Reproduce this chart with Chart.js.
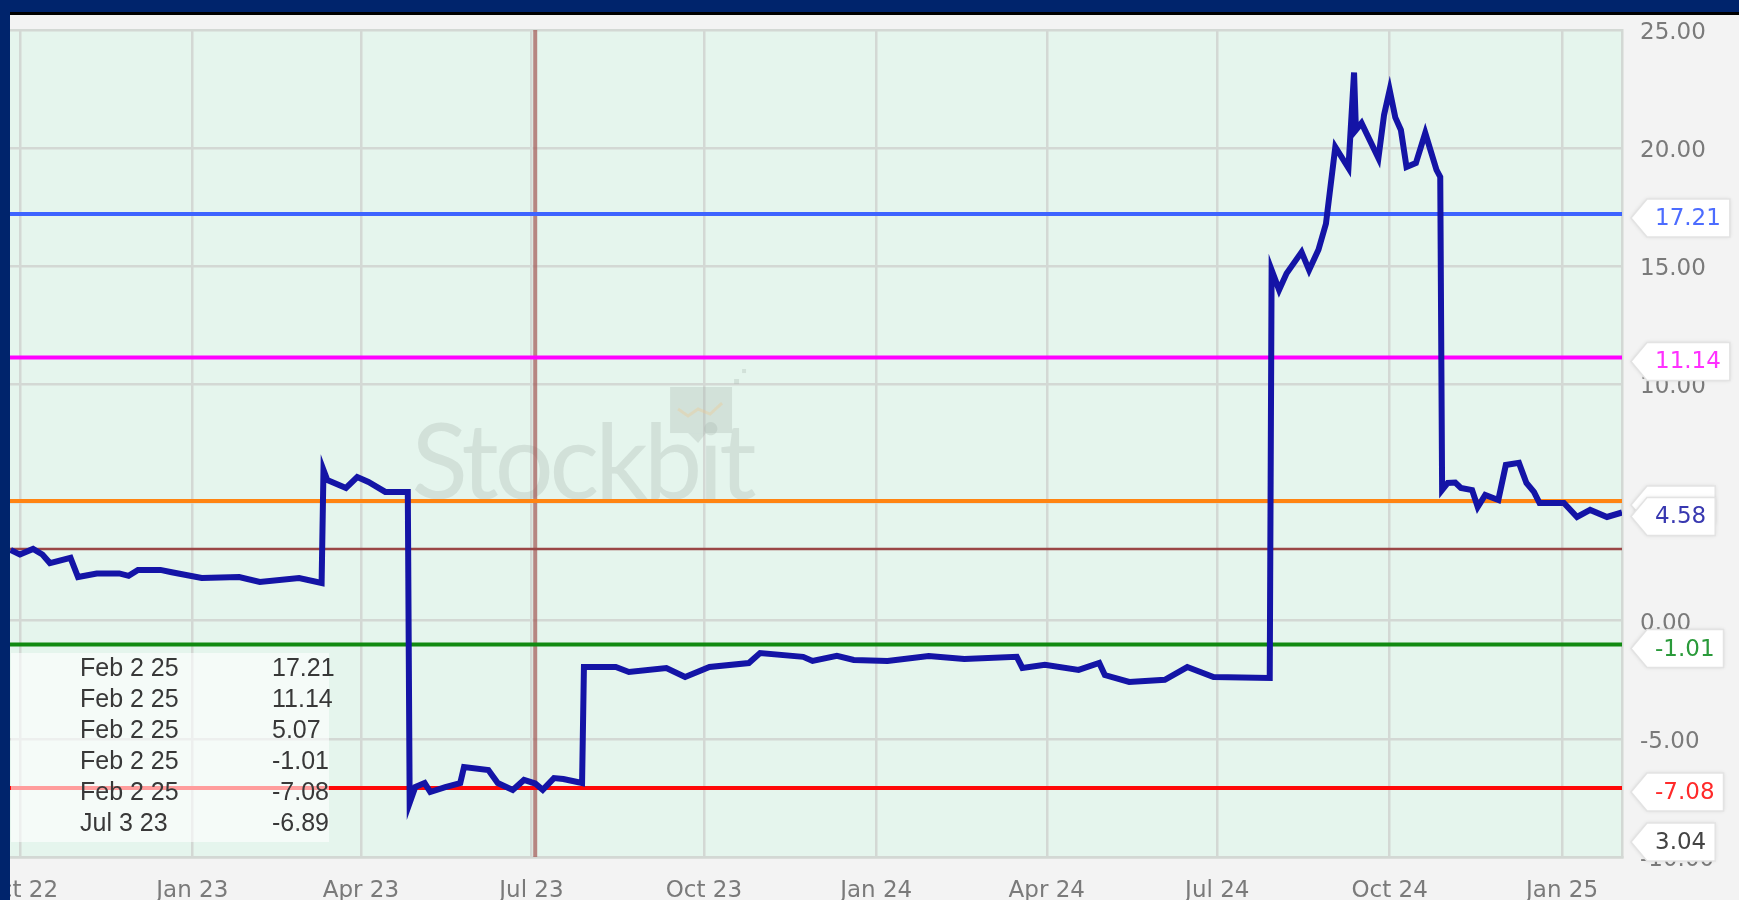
<!DOCTYPE html>
<html>
<head>
<meta charset="utf-8">
<script src="https://cdn.jsdelivr.net/npm/chart.js@4.4.1/dist/chart.umd.min.js"></script>
<style>
  html, body { margin: 0; padding: 0; background: #f3f3f3; overflow: hidden; }
  #wrap { width: 1739px; height: 900px; position: relative; }
</style>
</head>
<body>
<div id="wrap"><canvas id="chart"></canvas></div>
<script>
// price series
const dates = [
  '2022-09-26','2022-10-01','2022-10-08','2022-10-13','2022-10-17','2022-10-28','2022-11-01','2022-11-11',
  '2022-11-23','2022-11-28','2022-12-03','2022-12-15','2022-12-21','2023-01-06','2023-01-26','2023-02-06',
  '2023-02-27','2023-03-11','2023-03-12','2023-03-14','2023-03-24','2023-03-30','2023-04-05','2023-04-14',
  '2023-04-26','2023-04-27','2023-04-30','2023-05-05','2023-05-08','2023-05-16','2023-05-24','2023-05-26',
  '2023-06-08','2023-06-13','2023-06-21','2023-06-27','2023-07-03','2023-07-07','2023-07-13','2023-07-18',
  '2023-07-28','2023-07-29','2023-08-15','2023-08-22','2023-09-11','2023-09-21','2023-10-04','2023-10-25',
  '2023-10-31','2023-11-23','2023-11-28','2023-12-11','2023-12-20','2024-01-07','2024-01-29','2024-02-17',
  '2024-03-16','2024-03-19','2024-03-31','2024-04-18','2024-04-29','2024-05-02','2024-05-15','2024-06-03',
  '2024-06-15','2024-06-29','2024-07-29','2024-07-30','2024-08-03','2024-08-07','2024-08-15','2024-08-19',
  '2024-08-24','2024-08-28','2024-09-02','2024-09-09','2024-09-12','2024-09-13','2024-09-16','2024-09-25',
  '2024-09-28','2024-10-01','2024-10-04','2024-10-07','2024-10-10','2024-10-15','2024-10-20','2024-10-26',
  '2024-10-28','2024-10-29','2024-11-01','2024-11-05','2024-11-08','2024-11-14','2024-11-17','2024-11-21',
  '2024-11-28','2024-12-02','2024-12-09','2024-12-13','2024-12-17','2024-12-20','2025-01-02','2025-01-09',
  '2025-01-16','2025-01-25','2025-02-02'
];
const values = [
  3.00, 2.80, 3.04, 2.80, 2.44, 2.66, 1.85, 2.00,
  2.00, 1.90, 2.15, 2.15, 2.05, 1.81, 1.85, 1.64,
  1.81, 1.60, 6.38, 5.96, 5.62, 6.08, 5.87, 5.45,
  5.45, -7.71, -7.04, -6.87, -7.25, -7.04, -6.87, -6.19,
  -6.32, -6.87, -7.16, -6.74, -6.89, -7.16, -6.66, -6.70,
  -6.87, -1.96, -1.96, -2.17, -2.00, -2.38, -1.96, -1.79,
  -1.37, -1.53, -1.70, -1.49, -1.66, -1.70, -1.49, -1.62,
  -1.53, -2.00, -1.87, -2.08, -1.79, -2.30, -2.59, -2.50,
  -1.96, -2.38, -2.42, 14.84, 14.00, 14.70, 15.60, 14.84,
  15.70, 16.80, 20.05, 19.16, 23.20, 20.77, 21.06, 19.58,
  21.40, 22.46, 21.30, 20.77, 19.20, 19.37, 20.64, 19.08,
  18.78, 5.53, 5.83, 5.85, 5.62, 5.53, 4.81, 5.32,
  5.11, 6.59, 6.68, 5.83, 5.45, 4.98, 4.98, 4.39,
  4.69, 4.39, 4.58
];

// horizontal levels and their label colours
const levelValues = [17.21, 11.14, 5.07, -1.01, -7.08];
const levelColors = ['#3d63ff', '#ff00ff', '#ff8412', '#118a11', '#ff0808'];
const levelTextColors = ['#4c6cff', '#ff30ff', '#ff8412', '#2a9a3a', '#ff2a2a'];
const baseLevel = 3.04;
const lastValue = 4.58;
const markerDate = '2023-07-03';

// x axis ticks
const tickDates = ['2022-10-01','2023-01-01','2023-04-01','2023-07-01','2023-10-01','2024-01-01',
                   '2024-04-01','2024-07-01','2024-10-01','2025-01-01'];
const tickLabels = ['Oct 22','Jan 23','Apr 23','Jul 23','Oct 23','Jan 24','Apr 24','Jul 24','Oct 24','Jan 25'];
const yTicks = [-10, -5, 0, 5, 10, 15, 20, 25];

// table in the lower left corner
const tableDates = ['Feb 2 25','Feb 2 25','Feb 2 25','Feb 2 25','Feb 2 25','Jul 3 23'];
const tableValues = ['17.21','11.14','5.07','-1.01','-7.08','-6.89'];

const day = s => Date.UTC(+s.slice(0, 4), +s.slice(5, 7) - 1, +s.slice(8, 10)) / 864e5;
const xMin = day('2022-10-01') - 5.3;
const xMax = day('2025-02-02');
const AXIS_FONT = '23px "DejaVu Sans"';

function callout(ctx, area, y, text, color) {
  y += 4; // boxes sit a little below their line
  ctx.save();
  ctx.font = AXIS_FONT;
  const w = ctx.measureText(text).width;
  const tip = area.right + 9, bodyL = area.right + 25, textX = area.right + 33;
  const r = textX + w + 9, h = 38;
  ctx.beginPath();
  ctx.moveTo(tip, y);
  ctx.lineTo(bodyL, y - h / 2);
  ctx.lineTo(r, y - h / 2);
  ctx.lineTo(r, y + h / 2);
  ctx.lineTo(bodyL, y + h / 2);
  ctx.closePath();
  ctx.shadowColor = 'rgba(0,0,0,0.12)';
  ctx.shadowBlur = 4;
  ctx.fillStyle = '#ffffff';
  ctx.fill();
  ctx.shadowColor = 'transparent';
  ctx.strokeStyle = '#e3e3e3';
  ctx.lineWidth = 1.5;
  ctx.stroke();
  if (color) {
    ctx.fillStyle = color;
    ctx.textBaseline = 'middle';
    ctx.textAlign = 'left';
    ctx.fillText(text, textX, y + 1);
  }
  ctx.restore();
}

const decor = {
  id: 'decor',
  beforeDraw(chart) {
    const { ctx, chartArea: a } = chart;
    ctx.save();
    ctx.fillStyle = '#f3f3f3';
    ctx.fillRect(0, 0, chart.width, chart.height);
    ctx.fillStyle = '#e5f5ed';
    ctx.fillRect(a.left, a.top, a.right - a.left, a.bottom - a.top);
    ctx.restore();
  },
  beforeDatasetsDraw(chart) {
    // faint watermark
    const { ctx } = chart;
    const xs = chart.scales.x, ys = chart.scales.y;
    const cx = xs.getPixelForValue(day('2023-07-28'));
    const by = ys.getPixelForValue(5.15);
    ctx.save();
    ctx.fillStyle = 'rgba(165,178,172,0.3)';
    ctx.font = '104px Lato';
    ctx.letterSpacing = '-4px';
    ctx.textAlign = 'center';
    ctx.textBaseline = 'alphabetic';
    ctx.fillText('Stockbit', cx, by);
    ctx.fillRect(cx + 88, by - 112, 62, 46);
    ctx.beginPath();
    ctx.moveTo(cx + 106, by - 66); ctx.lineTo(cx + 116, by - 56); ctx.lineTo(cx + 124, by - 66);
    ctx.fill();
    ctx.fillRect(cx + 152, by - 120, 5, 5);
    ctx.fillRect(cx + 160, by - 130, 4, 4);
    ctx.strokeStyle = 'rgba(240,200,140,0.35)';
    ctx.lineWidth = 3;
    ctx.beginPath();
    ctx.moveTo(cx + 96, by - 90); ctx.lineTo(cx + 106, by - 83); ctx.lineTo(cx + 116, by - 90);
    ctx.lineTo(cx + 128, by - 85); ctx.lineTo(cx + 140, by - 96);
    ctx.stroke();
    ctx.restore();
  },
  afterDraw(chart) {
    const { ctx, chartArea: a } = chart;
    const ys = chart.scales.y;

    // table box
    ctx.save();
    ctx.fillStyle = 'rgba(255,255,255,0.6)';
    ctx.fillRect(a.left + 1, 653, 318, 189);
    ctx.font = '25px "Liberation Sans"';
    ctx.fillStyle = '#383838';
    ctx.textBaseline = 'middle';
    tableDates.forEach((d, i) => {
      const y = 669 + i * 31;
      ctx.textAlign = 'left';
      ctx.fillText(d, 80, y);
      ctx.fillText(tableValues[i], 272, y);
    });
    ctx.restore();

    // value callouts on the right (the 5.07 box sits behind the last-price box)
    levelValues.forEach((v, i) => {
      const hidden = Math.abs(v - lastValue) < 1;
      callout(ctx, a, ys.getPixelForValue(v), v.toFixed(2), hidden ? null : levelTextColors[i]);
    });
    callout(ctx, a, ys.getPixelForValue(lastValue), lastValue.toFixed(2), '#3838b0');
    callout(ctx, a, a.bottom - 19, baseLevel.toFixed(2), '#444444');

    // frame
    ctx.save();
    ctx.fillStyle = '#00246c';
    ctx.fillRect(0, 0, chart.width, 12);
    ctx.fillStyle = '#000000';
    ctx.fillRect(0, 12, chart.width, 3);
    ctx.fillStyle = '#00246c';
    ctx.fillRect(0, 0, 10, chart.height);
    ctx.restore();
  }
};

const datasets = [
  {
    data: dates.map((d, i) => ({ x: day(d), y: values[i] })),
    borderColor: '#1414a6',
    borderWidth: 6,
    pointRadius: 0,
    tension: 0
  },
  ...levelValues.map((v, i) => ({
    data: [{ x: xMin, y: v }, { x: xMax, y: v }],
    borderColor: levelColors[i],
    borderWidth: 4,
    pointRadius: 0
  })),
  {
    data: [{ x: xMin, y: baseLevel }, { x: xMax, y: baseLevel }],
    borderColor: '#9a4646',
    borderWidth: 2.5,
    pointRadius: 0
  },
  {
    data: [{ x: day(markerDate), y: -10 }, { x: day(markerDate), y: 25 }],
    borderColor: 'rgba(165,95,92,0.75)',
    borderWidth: 4,
    pointRadius: 0
  }
];

new Chart(document.getElementById('chart'), {
  type: 'line',
  data: { datasets },
  options: {
    responsive: true,
    maintainAspectRatio: false,
    animation: false,
    layout: { padding: { left: 10, top: 30, right: 0, bottom: 0 } },
    plugins: { legend: { display: false }, tooltip: { enabled: false } },
    scales: {
      x: {
        type: 'linear',
        min: xMin,
        max: xMax,
        afterBuildTicks: s => { s.ticks = tickDates.map(d => ({ value: day(d) })); },
        afterFit: s => { s.height = 43; s.paddingLeft = 0; s.paddingRight = 0; },
        ticks: {
          autoSkip: false,
          maxRotation: 0,
          padding: 20,
          color: '#7a7a7a',
          font: { family: 'DejaVu Sans', size: 23 },
          callback: v => tickLabels[tickDates.findIndex(d => day(d) === v)] || ''
        },
        grid: { color: '#d3d8d4', lineWidth: 2.5, drawTicks: false },
        border: { color: '#d3d8d4', width: 2.5 }
      },
      y: {
        position: 'right',
        min: -10,
        max: 25,
        afterBuildTicks: s => { s.ticks = yTicks.map(v => ({ value: v })); },
        afterFit: s => { s.width = 117; s.paddingTop = 0; s.paddingBottom = 0; },
        ticks: {
          padding: 18,
          labelOffset: 3,
          color: '#7a7a7a',
          font: { family: 'DejaVu Sans', size: 23 },
          callback: v => v.toFixed(2)
        },
        grid: { color: '#d3d8d4', lineWidth: 2.5, drawTicks: false },
        border: { color: '#d3d8d4', width: 2.5 }
      }
    }
  },
  plugins: [decor]
});
</script>
</body>
</html>
